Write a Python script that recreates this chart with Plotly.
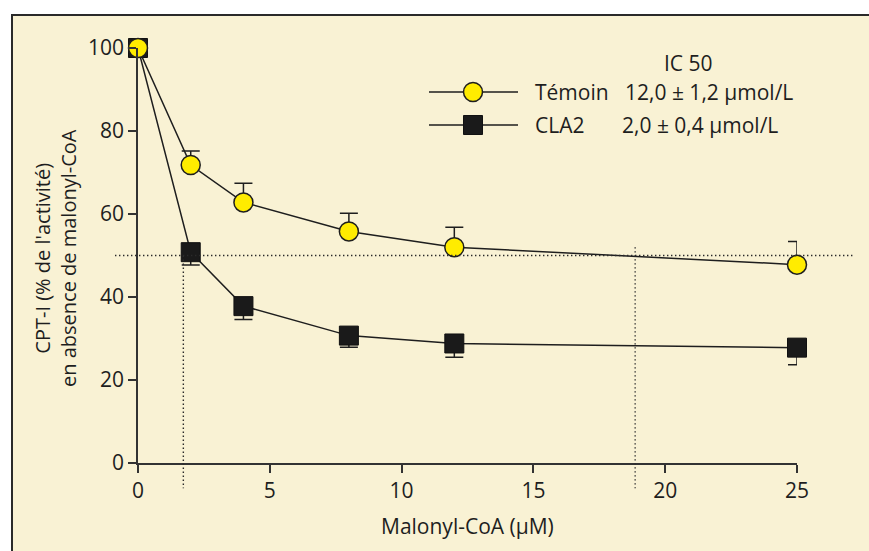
import plotly.graph_objects as go

# ---- data ----
conc = [0, 2, 4, 8, 12, 25]
temoin = [100, 71.8, 62.8, 55.8, 52.0, 47.8]
temoin_err_plus = [0, 3.4, 4.6, 4.4, 4.8, 5.6]
cla2 = [100, 50.8, 37.8, 30.7, 28.8, 27.8]
cla2_err_minus = [0, 3.1, 3.2, 2.8, 3.3, 4.1]
ic50_level = 50
ic50_cla2_x = 1.72
ic50_temoin_x = 18.86
x_ticks = [0, 5, 10, 15, 20, 25]
y_ticks = [0, 20, 40, 60, 80, 100]
legend_names = ["Témoin", "CLA2"]
legend_ic50 = ["12,0 ± 1,2 µmol/L", "2,0 ± 0,4 µmol/L"]

W, H = 869, 551
L, T = 138, 48
PW, PH = 659, 415
R, B = W - L - PW, H - T - PH
XR = [0, 25]
YR = [0, 100]

def px(xs):  # screen pixel x -> paper
    return (xs - L) / PW

def py(ys):  # screen pixel y -> paper
    return (T + PH - ys) / PH

def dx(v):  # data x -> paper
    return (v - XR[0]) / (XR[1] - XR[0])

def dy(v):
    return (v - YR[0]) / (YR[1] - YR[0])

INK = "#1e1e1e"
BG = "#f9f2d4"
FONT = "Open Sans"

fig = go.Figure()

fig.add_trace(go.Scatter(
    x=conc, y=cla2, mode="lines+markers", name="CLA2",
    line=dict(color=INK, width=1.5),
    marker=dict(symbol="square", size=19, color="#1a1a1a", line=dict(color="#111", width=1)),
    error_y=dict(type="data", symmetric=False, array=[0]*len(conc), arrayminus=cla2_err_minus,
                 color=INK, thickness=1.5, width=9),
    cliponaxis=False, showlegend=False,
))
fig.add_trace(go.Scatter(
    x=conc, y=temoin, mode="lines+markers", name="Témoin",
    line=dict(color=INK, width=1.5),
    marker=dict(symbol="circle", size=19, color="#ffec00", line=dict(color=INK, width=1.5)),
    error_y=dict(type="data", symmetric=False, array=temoin_err_plus, arrayminus=[0]*len(conc),
                 color=INK, thickness=1.5, width=9),
    cliponaxis=False, showlegend=False,
))

shapes = []
# frame: fill + top and left borders (right/bottom lie outside the picture)
shapes.append(dict(type="rect", xref="paper", yref="paper",
                   x0=px(12), x1=px(W + 5), y0=py(H + 5), y1=py(15),
                   line=dict(width=0), fillcolor=BG, layer="below"))
frame_line = dict(color="#2a2a2a", width=2)
shapes.append(dict(type="line", xref="paper", yref="paper",
                   x0=px(11), x1=px(W + 5), y0=py(15), y1=py(15), line=frame_line))
shapes.append(dict(type="line", xref="paper", yref="paper",
                   x0=px(12), x1=px(12), y0=py(15), y1=py(H + 5), line=frame_line))
# IC50 dotted guides
dot = dict(color="#2a2a2a", width=1.4, dash="1.4px,2.6px")
shapes.append(dict(type="line", xref="paper", yref="paper",
                   x0=px(115), x1=dx(27.2), y0=dy(ic50_level), y1=dy(ic50_level), line=dot))
shapes.append(dict(type="line", xref="paper", yref="paper",
                   x0=dx(ic50_cla2_x), x1=dx(ic50_cla2_x), y0=dy(ic50_level), y1=dy(-6.1), line=dot))
shapes.append(dict(type="line", xref="paper", yref="paper",
                   x0=dx(ic50_temoin_x), x1=dx(ic50_temoin_x), y0=dy(52), y1=dy(-6.1), line=dot))

# custom legend
rows_y = [92, 125]
for i, yy in enumerate(rows_y):
    shapes.append(dict(type="line", xref="paper", yref="paper",
                       x0=px(429), x1=px(518), y0=py(yy), y1=py(yy),
                       line=dict(color=INK, width=1.5)))
r = 9.5
shapes.append(dict(type="circle", xref="paper", yref="paper",
                   x0=px(473 - r), x1=px(473 + r), y0=py(rows_y[0] + r), y1=py(rows_y[0] - r),
                   fillcolor="#ffec00", line=dict(color=INK, width=1.5)))
shapes.append(dict(type="rect", xref="paper", yref="paper",
                   x0=px(473 - r), x1=px(473 + r), y0=py(rows_y[1] + r), y1=py(rows_y[1] - r),
                   fillcolor="#1a1a1a", line=dict(color="#111", width=1)))

tf = dict(family=FONT, size=21, color=INK)
yf = dict(family=FONT, size=20, color=INK)
ann = []
ann.append(dict(text="IC 50", xref="paper", yref="paper", x=px(688), y=py(63),
                showarrow=False, font=tf, xanchor="center", yanchor="middle"))
for i, yy in enumerate(rows_y):
    ann.append(dict(text=legend_names[i], xref="paper", yref="paper", x=px(533), y=py(yy),
                    showarrow=False, font=tf, xanchor="left", yanchor="middle"))
    ann.append(dict(text=legend_ic50[i], xref="paper", yref="paper", x=px(623 if i == 0 else 620), y=py(yy),
                    showarrow=False, font=tf, xanchor="left", yanchor="middle"))
# axis titles
ann.append(dict(text="Malonyl-CoA (µM)", xref="paper", yref="paper", x=px(467), y=py(526),
                showarrow=False, font=tf, xanchor="center", yanchor="middle"))
ann.append(dict(text="CPT-I (% de l'activité)<br>en absence de malonyl-CoA", xref="paper", yref="paper",
                x=px(55), y=py(258), textangle=-90,
                showarrow=False, font=yf, xanchor="center", yanchor="middle"))

fig.update_layout(
    width=W, height=H,
    margin=dict(l=L, r=R, t=T, b=B, pad=0),
    paper_bgcolor="white", plot_bgcolor="rgba(0,0,0,0)",
    shapes=shapes, annotations=ann,
    font=tf,
    xaxis=dict(range=XR, tickvals=x_ticks, ticks="outside", ticklen=8, tickwidth=1.5,
               tickcolor="#333", showline=True, linecolor="#333", linewidth=1.5,
               showgrid=False, zeroline=False, tickfont=tf, fixedrange=True),
    yaxis=dict(range=YR, tickvals=y_ticks, ticks="outside", ticklen=8, tickwidth=1.5,
               tickcolor="#333", showline=True, linecolor="#333", linewidth=1.5,
               showgrid=False, zeroline=False, tickfont=tf, fixedrange=True),
)

fig.write_html("out.html", config={"displayModeBar": False},
               post_script=("document.documentElement.style.overflow='hidden';"
                            "document.body.style.margin='0px';document.body.style.overflow='hidden';"))
